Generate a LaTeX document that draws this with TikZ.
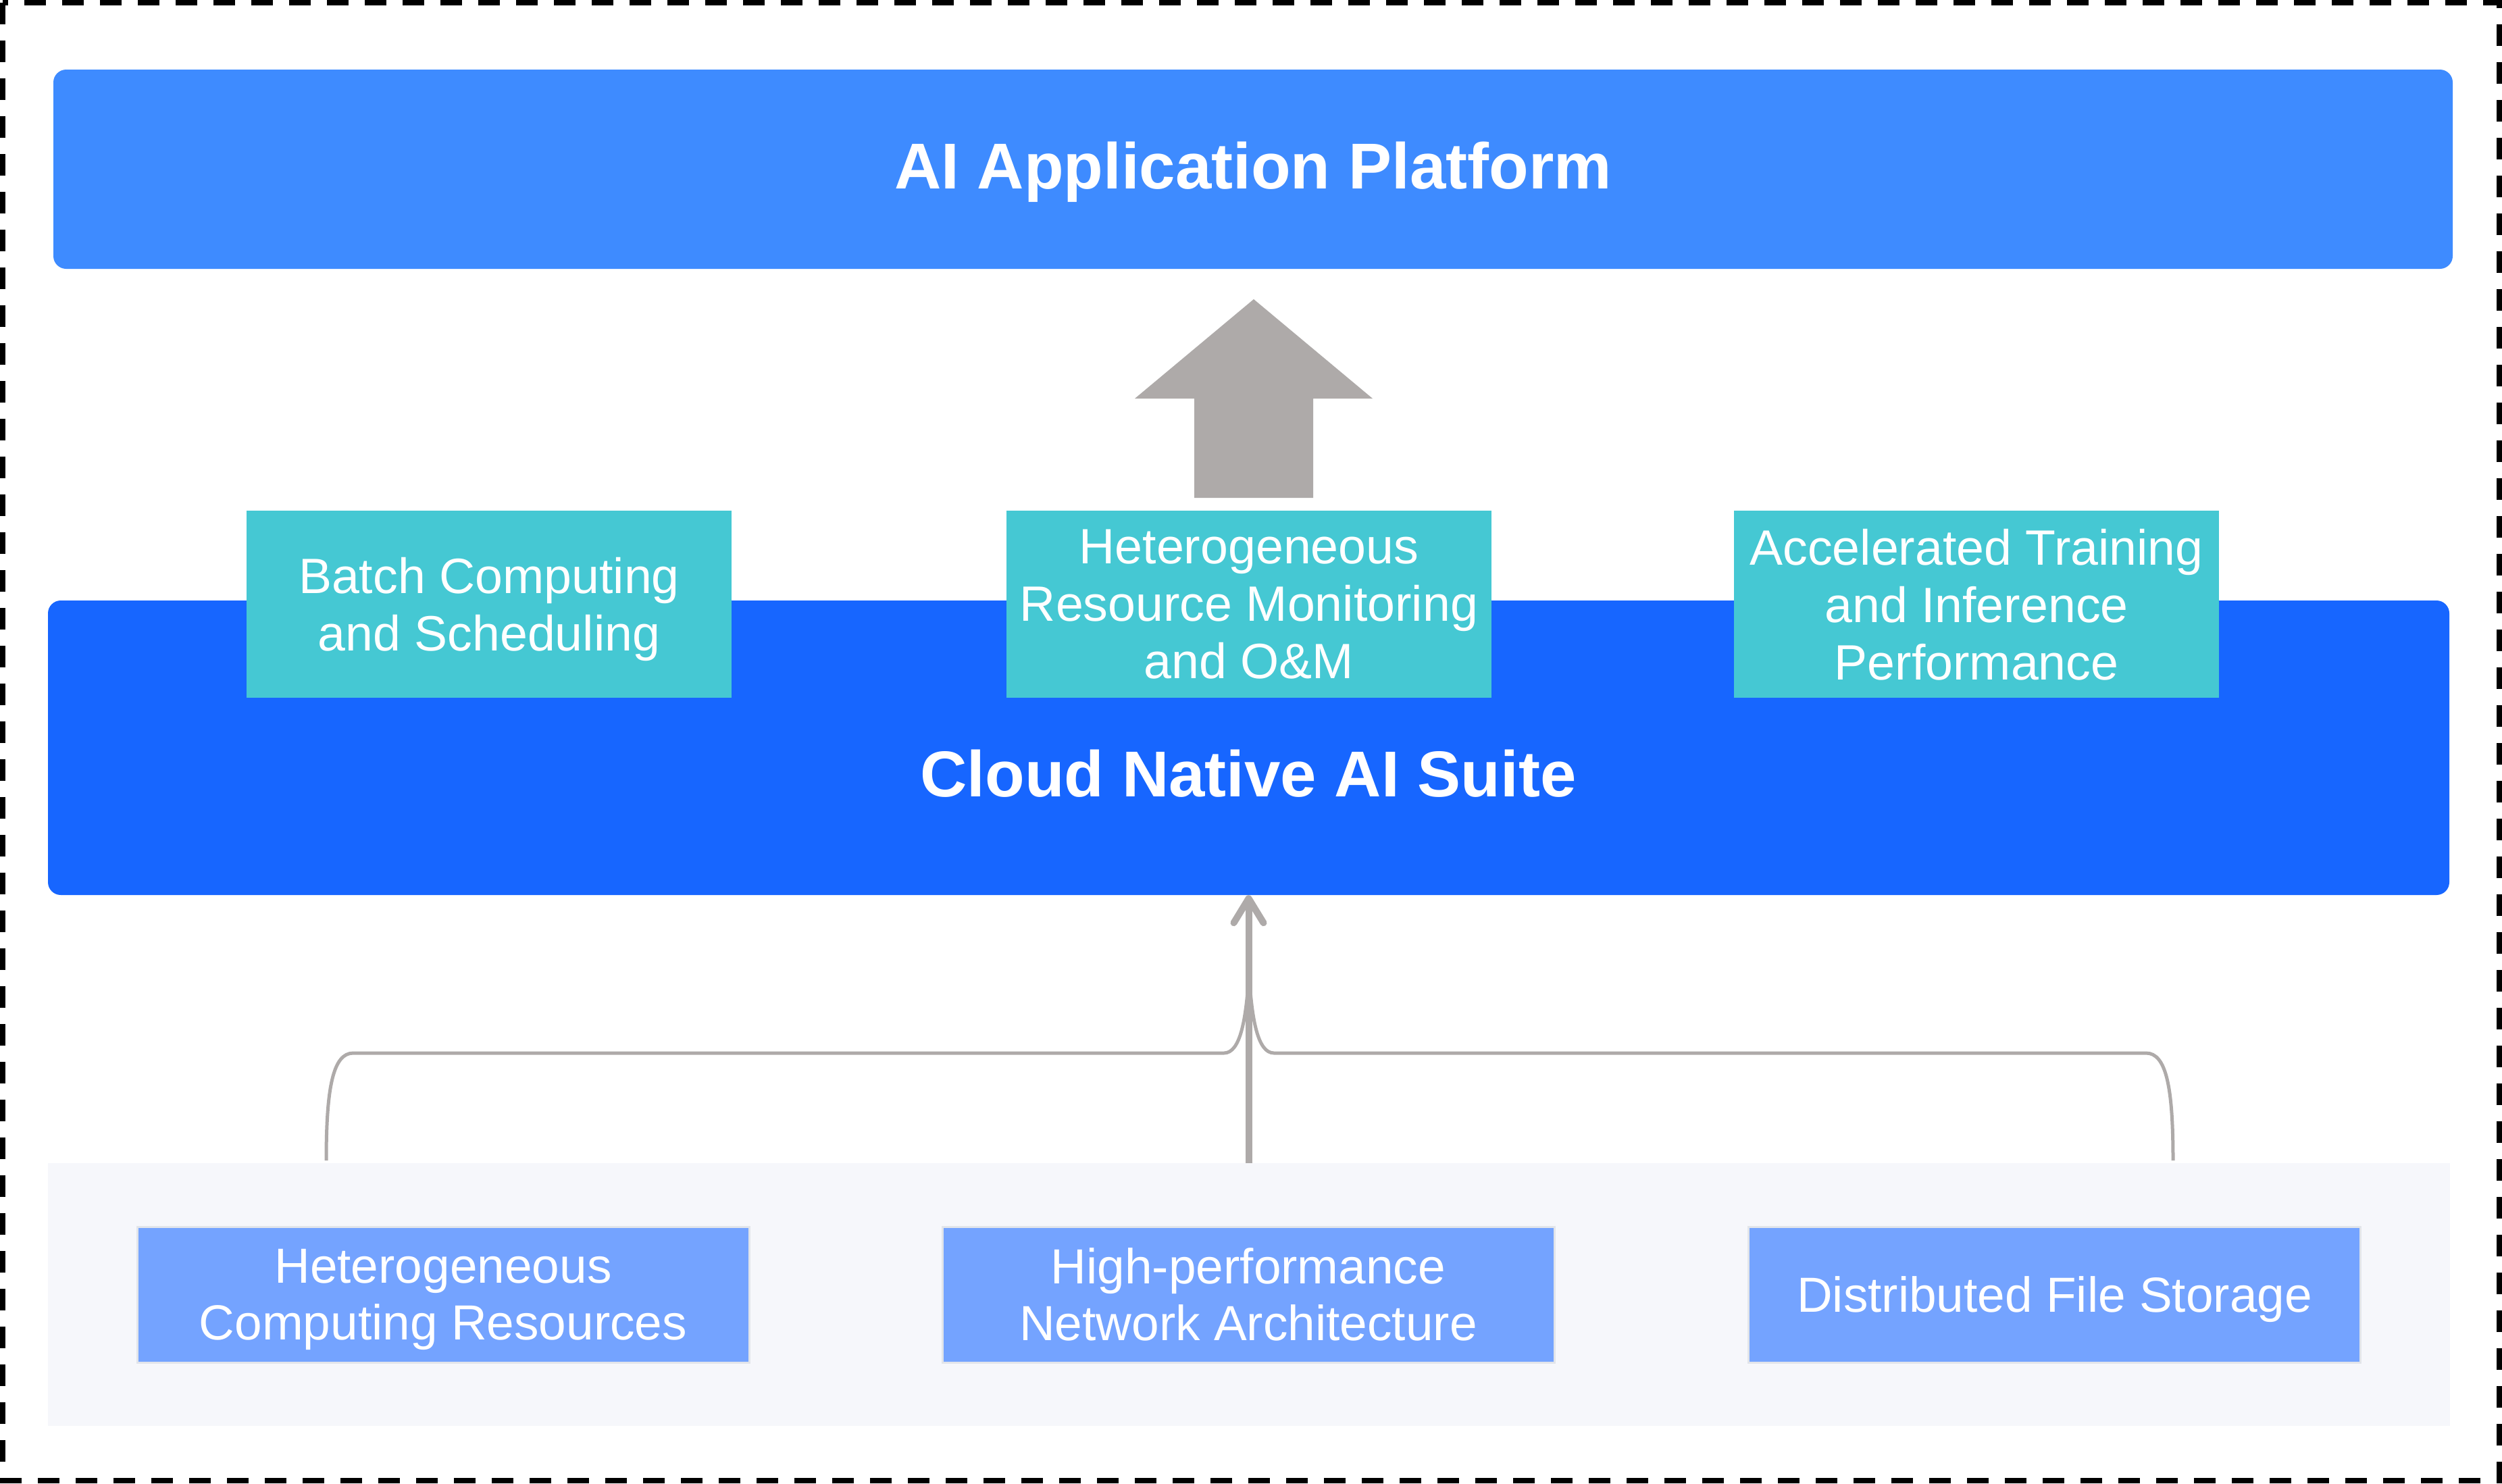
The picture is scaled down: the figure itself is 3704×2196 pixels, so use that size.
\documentclass[tikz,border=0pt]{standalone}
\usepackage{fontspec}
\setmainfont{Liberation Sans}
\usetikzlibrary{arrows.meta}
\definecolor{topblue}{HTML}{3E8BFF}
\definecolor{suiteblue}{HTML}{1766FF}
\definecolor{tealbox}{HTML}{45C8D3}
\definecolor{lowbox}{HTML}{74A3FF}
\definecolor{lowborder}{HTML}{E2E5EA}
\definecolor{panelbg}{HTML}{F6F7FB}
\definecolor{arrowgray}{HTML}{AEAAA9}
\tikzset{
  bigbox/.style={rectangle, inner sep=0pt, rounded corners=19pt},
  titletext/.style={text=white, inner sep=0pt, anchor=base, font=\fontsize{96}{115}\selectfont\bfseries},
  tealnode/.style={rectangle, fill=tealbox, inner sep=0pt, minimum width=718pt, minimum height=277pt,
    text=white, align=center, text depth=0pt, font=\fontsize{73.5}{85}\selectfont},
  lownode/.style={rectangle, fill=lowbox, draw=lowborder, line width=3pt, inner sep=0pt,
    minimum width=906pt, minimum height=201pt, text=white, align=center, text depth=0pt,
    font=\fontsize{73}{84}\selectfont},
  branch/.style={draw=arrowgray, line width=5pt},
}
\begin{document}
\begin{tikzpicture}[x=1pt,y=-1pt]
\useasboundingbox (0,0) rectangle (3704,2196);
\fill[white] (0,0) rectangle (3704,2196);
\draw[line width=8pt, dash pattern=on 32pt off 24pt] (4,4) rectangle (3700,2192);

% top platform
\node[bigbox, fill=topblue, minimum width=3552pt, minimum height=295pt] (platform) at (1855,250.5) {};
\node[titletext] (platformtext) at (1855,279) {AI Application Platform};

% big arrow
\fill[arrowgray] (1856,443) -- (2032,590) -- (1944,590) -- (1944,737) -- (1768,737) -- (1768,590) -- (1680,590) -- cycle;

% suite
\node[bigbox, fill=suiteblue, minimum width=3555pt, minimum height=436pt] (suite) at (1848.5,1107) {};
\node[titletext] (suitetext) at (1848,1179) {Cloud Native AI Suite};

\node[tealnode] (batch) at (724,894.5) {Batch Computing\\and Scheduling};
\node[tealnode] (monitor) at (1849,894.5) {Heterogeneous\\Resource Monitoring\\and O\&M};
\node[tealnode] (accel) at (2926,894.5) {Accelerated Training\\and Inference\\Performance};

% bottom panel
\node[rectangle, fill=panelbg, inner sep=0pt, minimum width=3556pt, minimum height=389pt] (panel) at (1849,1916.5) {};
\node[lownode] (hetero) at (656,1916.5) {Heterogeneous\\Computing Resources};
\node[lownode] (network) at (1848,1916.5) {High-performance\\Network Architecture};
\node[lownode] (storage) at (3041.5,1916.5) {Distributed File Storage};

% connectors
\coordinate (lstart) at (483,1718);
\coordinate (rstart) at (3217,1718);
\coordinate (merge) at (1849,1440);
\draw[branch] (lstart) .. controls (483,1610) and (493,1559) .. (523,1559) -- (1812,1559)
  .. controls (1836,1559) and (1845,1510) .. (merge);
\draw[branch] (rstart) .. controls (3217,1610) and (3207,1559) .. (3177,1559) -- (1886,1559)
  .. controls (1862,1559) and (1853,1510) .. (merge);
\draw[draw=arrowgray, line width=10pt, -{Straight Barb[length=36pt, width=44pt, round]}]
  (panel.north -| suite.south) -- (suite.south);
\end{tikzpicture}
\end{document}
